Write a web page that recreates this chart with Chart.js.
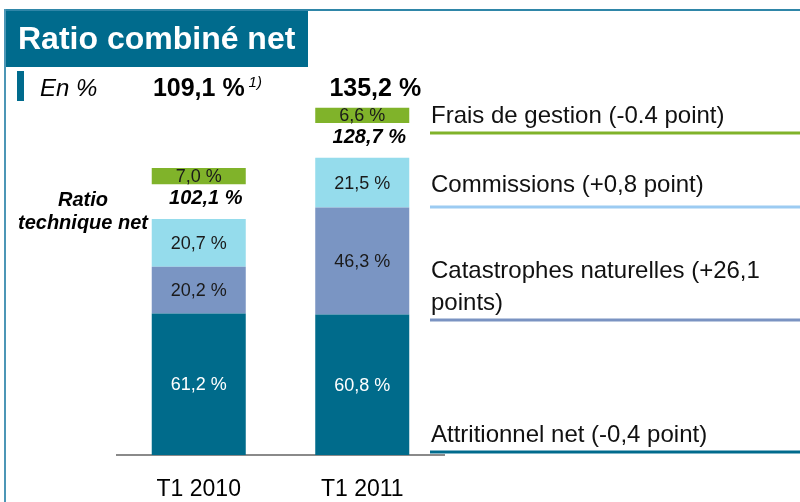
<!DOCTYPE html>
<html><head><meta charset="utf-8">
<script src="https://cdn.jsdelivr.net/npm/chart.js@4.4.1/dist/chart.umd.min.js"></script>
<style>html,body{margin:0;padding:0;background:#fff;overflow:hidden}</style>
</head><body>
<canvas id="c" width="800" height="502"></canvas>
<script>
// ---- data ----
const categories = ['T1 2010', 'T1 2011'];
const attritionnel = [61.2, 60.8];
const catastrophes = [20.2, 46.3];
const commissions = [20.7, 21.5];
const fraisGestion = [7.0, 6.6];
const ratioTechnique = [102.1, 128.7];
const ratioCombine = [109.1, 135.2];
const legendLabels = [
  ['Frais de gestion (-0.4 point)'],
  ['Commissions (+0,8 point)'],
  ['Catastrophes naturelles (+26,1', 'points)'],
  ['Attritionnel net (-0,4 point)']
];
const titleText = 'Ratio combiné net';
const unitText = 'En %';
const noteText = '1)';
const techLabel = ['Ratio', 'technique net'];

// layout constant: visual gap between the technical ratio and management costs
const GAP = 15;
const spacer = categories.map(() => GAP);

const FONT = '"Liberation Sans", Arial, Helvetica, sans-serif';
const TEAL = '#006B8D';
const C_ATT = '#006B8B', C_CAT = '#7A95C3', C_COM = '#95DCEC', C_FRA = '#80B32A';
const fmt = v => v.toFixed(1).replace('.', ',') + ' %';

const deco = {
  id: 'deco',
  beforeDraw(chart) {
    const ctx = chart.ctx;
    ctx.save();
    // frame
    ctx.fillStyle = '#2F86A8';
    ctx.fillRect(4, 9, 796, 2);
    ctx.fillStyle = '#4C96B6';
    ctx.fillRect(4, 9, 2, 493);
    // title box
    ctx.fillStyle = TEAL;
    ctx.fillRect(6, 11, 302, 56);
    ctx.fillStyle = '#fff';
    ctx.font = 'bold 32px ' + FONT;
    ctx.textBaseline = 'alphabetic';
    ctx.textAlign = 'left';
    ctx.fillText(titleText, 18, 49);
    // unit marker
    ctx.fillStyle = TEAL;
    ctx.fillRect(17, 71, 7, 30);
    ctx.fillStyle = '#000';
    ctx.font = 'italic 24px ' + FONT;
    ctx.fillText(unitText, 40, 96);
    ctx.restore();
  },
  afterDatasetsDraw(chart) {
    const ctx = chart.ctx;
    ctx.save();
    ctx.textAlign = 'center';
    ctx.textBaseline = 'middle';
    const segs = [
      {ds: 0, vals: attritionnel, color: '#fff'},
      {ds: 1, vals: catastrophes, color: '#1a1a1a'},
      {ds: 2, vals: commissions, color: '#1a1a1a'},
      {ds: 4, vals: fraisGestion, color: '#1a1a1a'}
    ];
    ctx.font = '18px ' + FONT;
    segs.forEach(s => {
      chart.getDatasetMeta(s.ds).data.forEach((bar, i) => {
        ctx.fillStyle = s.color;
        ctx.fillText(fmt(s.vals[i]), bar.x, (bar.y + bar.base) / 2 + 1);
      });
    });
    // technical ratio labels in the gap
    const gapMeta = chart.getDatasetMeta(3).data;
    ctx.font = 'bold italic 20px ' + FONT;
    ctx.fillStyle = '#000';
    gapMeta.forEach((bar, i) => {
      ctx.fillText(fmt(ratioTechnique[i]), bar.x + 7, (bar.y + bar.base) / 2 - 3);
    });
    // "Ratio technique net"
    const b0 = gapMeta[0];
    const cy = (b0.y + b0.base) / 2;
    ctx.font = 'bold italic 20px ' + FONT;
    ctx.textBaseline = 'alphabetic';
    ctx.fillText(techLabel[0], 83, cy + 4);
    ctx.fillText(techLabel[1], 83, cy + 27);
    // combined ratios on top
    const topMeta = chart.getDatasetMeta(0).data;
    ctx.font = 'bold 25px ' + FONT;
    ctx.textAlign = 'center';
    const xs = [topMeta[0].x + 0, topMeta[1].x + 13];
    ratioCombine.forEach((v, i) => {
      ctx.fillText(fmt(v), xs[i], 96);
    });
    const w0 = ctx.measureText(fmt(ratioCombine[0])).width;
    ctx.font = 'italic 15px ' + FONT;
    ctx.textAlign = 'left';
    ctx.fillText(noteText, xs[0] + w0 / 2 + 4, 87);
    // legend on the right
    const leg = [
      {lines: legendLabels[0], base: [123], lineY: 133, color: '#80B32A', lw: 3},
      {lines: legendLabels[1], base: [192], lineY: 207, color: '#9CCBF2', lw: 3},
      {lines: legendLabels[2], base: [278, 310], lineY: 320, color: '#7A93C2', lw: 3},
      {lines: legendLabels[3], base: [442], lineY: 452, color: '#006B8D', lw: 3}
    ];
    ctx.font = '24px ' + FONT;
    ctx.fillStyle = '#111';
    leg.forEach(l => {
      l.lines.forEach((t, k) => ctx.fillText(t, 431, l.base[k]));
      ctx.fillStyle = l.color;
      ctx.fillRect(430, l.lineY - l.lw / 2, 370, l.lw);
      ctx.fillStyle = '#111';
    });
    ctx.restore();
  }
};

new Chart(document.getElementById('c').getContext('2d'), {
  type: 'bar',
  data: {
    labels: categories,
    datasets: [
      {label: 'Attritionnel net', data: attritionnel, backgroundColor: C_ATT},
      {label: 'Catastrophes naturelles', data: catastrophes, backgroundColor: C_CAT},
      {label: 'Commissions', data: commissions, backgroundColor: C_COM},
      {label: 'gap', data: spacer, backgroundColor: 'rgba(0,0,0,0)'},
      {label: 'Frais de gestion', data: fraisGestion, backgroundColor: C_FRA}
    ]
  },
  options: {
    responsive: false,
    animation: false,
    devicePixelRatio: 1,
    layout: {padding: {left: 117, right: 356, top: 62, bottom: 0}},
    plugins: {legend: {display: false}, tooltip: {enabled: false}},
    datasets: {bar: {barPercentage: 0.575, categoryPercentage: 1, stack: 's'}},
    scales: {
      x: {
        stacked: true,
        grid: {display: false, drawTicks: false},
        border: {display: true, color: '#8A8A8A', width: 2},
        ticks: {color: '#000', font: {family: FONT, size: 23}, padding: 21},
        afterFit(s) { s.height = 47; }
      },
      y: {stacked: true, display: false, min: 0, max: 170}
    }
  },
  plugins: [deco]
});
</script>
</body></html>
